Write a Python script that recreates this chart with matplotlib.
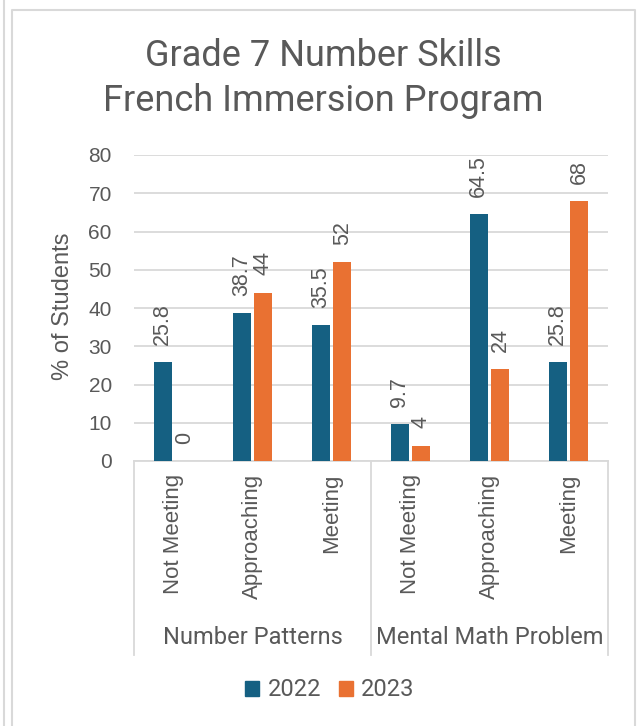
import matplotlib
matplotlib.use("Agg")
import matplotlib.pyplot as plt
from matplotlib.lines import Line2D
from matplotlib.patches import Patch
import numpy as np

categories = ["Not Meeting", "Approaching", "Meeting", "Not Meeting", "Approaching", "Meeting"]
groups = ["Number Patterns", "Mental Math Problem"]
values_2022 = [25.8, 38.7, 35.5, 9.7, 64.5, 25.8]
values_2023 = [0, 44, 52, 4, 24, 68]
series_names = ["2022", "2023"]
yticks = [0, 10, 20, 30, 40, 50, 60, 70, 80]

BLUE = "#156082"
ORANGE = "#E97132"
GRAY = "#595959"
GRID = "#D9D9D9"
FRAME = "#D9D9D9"

W, H = 641, 726
fig = plt.figure(figsize=(W / 100, H / 100), dpi=100)

# outer frame lines
fig.add_artist(Line2D([3.5 / W, 3.5 / W], [0, 1], color=FRAME, lw=1.5, transform=fig.transFigure))
fig.add_artist(Line2D([12 / W, 12 / W, 635 / W, 635 / W], [0, 1 - 10 / H, 1 - 10 / H, 0],
                      color=FRAME, lw=1.5, transform=fig.transFigure))

x0, x1 = 134, 608
y0, y1 = 461, 155
ax = fig.add_axes([x0 / W, 1 - y0 / H, (x1 - x0) / W, (y0 - y1) / H])

x = np.arange(len(categories))
bw = 0.228
gap = 0.05
off = (bw + gap) / 2
b1 = ax.bar(x - off, values_2022, bw, color=BLUE, label=series_names[0], zorder=3)
b2 = ax.bar(x + off, values_2023, bw, color=ORANGE, label=series_names[1], zorder=3)

SANS = ["Liberation Sans", "DejaVu Sans"]
for bars, vals in ((b1, values_2022), (b2, values_2023)):
    for r, v in zip(bars, vals):
        ax.annotate(f"{v:g}", (r.get_x() + r.get_width() / 2, r.get_height()),
                    xytext=(0, 12.5), textcoords="offset points", rotation=90,
                    ha="center", va="bottom", family=SANS, size=15.5, color=GRAY)

ax.set_xlim(-0.5, len(categories) - 0.5)
ax.set_ylim(0, 80)
ax.set_yticks(yticks)
ax.set_yticklabels([str(t) for t in yticks], family=SANS, size=15, color=GRAY)
ax.tick_params(axis="y", length=0, pad=16)
ax.yaxis.grid(True, color=GRID, lw=1.3, zorder=0)
ax.set_axisbelow(True)
for s in ["top", "right", "left"]:
    ax.spines[s].set_visible(False)
ax.spines["bottom"].set_color(GRID)
ax.spines["bottom"].set_linewidth(1.3)

ax.set_xticks(x)
ax.set_xticklabels(categories, rotation=90, va="top", ha="center", family=SANS, size=16, color=GRAY)
ax.tick_params(axis="x", length=0, pad=9)

ax.text((63 - x0) / (x1 - x0), (y0 - 306) / (y0 - y1), "% of Students", transform=ax.transAxes,
        rotation=90, ha="center", va="center", fontsize=17, color=GRAY, family=SANS)

# category group separators
tr = ax.get_xaxis_transform()
sep_bottom = -(655 - 461) / (y0 - y1)
for sx in [-0.5, 2.5, 5.5]:
    ax.plot([sx, sx], [0, sep_bottom], color=GRID, lw=1.3, transform=tr, clip_on=False)
grp_y = -(638 - 461) / (y0 - y1)
for gi, g in enumerate(groups):
    ax.text(gi * 3 + 1, grp_y, g, transform=tr, ha="center", va="center",
            fontsize=17, color=GRAY, family=["Roboto", "DejaVu Sans"])

# title
fig.text(323 / W, 1 - 56 / H, "Grade 7 Number Skills", ha="center", va="center",
         fontsize=26, color=GRAY, family=["Roboto", "DejaVu Sans"])
fig.text(323 / W, 1 - 101 / H, "French Immersion Program", ha="center", va="center",
         fontsize=26, color=GRAY, family=["Roboto", "DejaVu Sans"])

# legend
handles = [Patch(color=BLUE, label=series_names[0]), Patch(color=ORANGE, label=series_names[1])]
fig.legend(handles=handles, loc="center", bbox_to_anchor=(330 / W, 1 - 690 / H), ncol=2,
           frameon=False, handlelength=0.6, handleheight=0.6, handletextpad=0.35,
           columnspacing=0.75, prop=dict(family=["Roboto", "DejaVu Sans"], size=17),
           labelcolor=GRAY)

fig.savefig("out.png", dpi=100)
